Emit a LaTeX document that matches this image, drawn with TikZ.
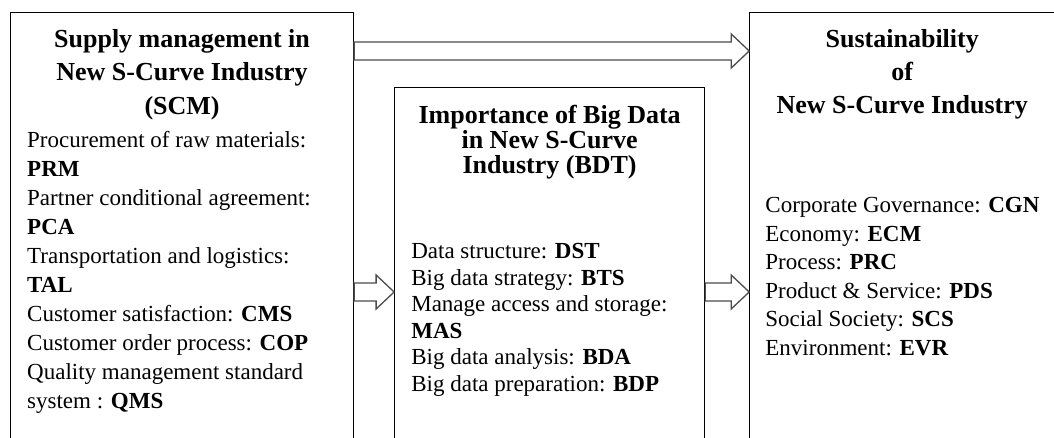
\documentclass[tikz,border=0pt]{standalone}
\usepackage{fontspec}
\setmainfont{Liberation Serif}
\usetikzlibrary{positioning,calc}

% open block arrow from one point to another (same height)
\newcommand{\hollowarrow}[2]{%
  \draw[fatarrow] let \p1=(#1), \p2=(#2) in
    (\x1,\y1-9pt) -- (\x2-18pt,\y1-9pt) -- (\x2-18pt,\y1-17pt) -- (\x2,\y1)
    -- (\x2-18pt,\y1+17pt) -- (\x2-18pt,\y1+9pt) -- (\x1,\y1+9pt) -- cycle;}

\begin{document}
\begin{tikzpicture}[x=1pt,y=1pt,
  box/.style={draw,line width=1.1pt,inner sep=0pt},
  title/.style={font=\fontsize{26}{#1}\selectfont\bfseries,align=center,inner sep=0pt,anchor=north},
  title/.default=33.5,
  body/.style={font=\fontsize{23}{#1}\selectfont,align=left,inner sep=0pt,anchor=north west},
  body/.default=29,
  fatarrow/.style={draw=black!70,fill=white,line width=1.3pt,line join=miter}]
\useasboundingbox (0,0) rectangle (1054,438);

% the three blocks
\node[box,minimum width=343,minimum height=450,anchor=north west] (scm) at (10,426) {};
\node[box,minimum width=310,minimum height=375,above right=0pt and 40pt of scm.south east] (bdt) {};
\node[box,minimum width=305,minimum height=450,above right=0pt and 44pt of bdt.south east] (sus) {};

% left block
\node[title] (scmtitle) at ([yshift=-17pt]scm.north) {Supply management in\\New S-Curve Industry\\(SCM)};
\node[body] (scmlist) at ([xshift=17pt,yshift=-119pt]scm.north west)
  {Procurement of raw materials:\\
   \textbf{PRM}\\
   Partner conditional agreement:\\
   \textbf{PCA}\\
   Transportation and logistics:\\
   \textbf{TAL}\\
   Customer satisfaction: \textbf{CMS}\\
   Customer order process: \textbf{COP}\\
   Quality management standard\\
   system : \textbf{QMS}};

% middle block
\node[title=25] (bdttitle) at ([yshift=-18pt]bdt.north) {Importance of Big Data\\in New S-Curve\\Industry (BDT)};
\node[body=26.6] (bdtlist) at ([xshift=17pt,yshift=-156pt]bdt.north west)
  {Data structure: \textbf{DST}\\
   Big data strategy: \textbf{BTS}\\
   Manage access and storage:\\
   \textbf{MAS}\\
   Big data analysis: \textbf{BDA}\\
   Big data preparation: \textbf{BDP}};

% right block
\node[title=33] (sustitle) at ([yshift=-17pt]sus.north) {Sustainability\\of\\New S-Curve Industry};
\node[body=28.6] (suslist) at ([xshift=16pt,yshift=-185pt]sus.north west)
  {Corporate Governance: \textbf{CGN}\\
   Economy: \textbf{ECM}\\
   Process: \textbf{PRC}\\
   Product \& Service: \textbf{PDS}\\
   Social Society: \textbf{SCS}\\
   Environment: \textbf{EVR}};

% connectors
\coordinate (toprow) at (0,387);
\coordinate (midrow) at (0,146);
\hollowarrow{scm.east |- toprow}{sus.west |- toprow}
\hollowarrow{scm.east |- midrow}{bdt.west |- midrow}
\hollowarrow{bdt.east |- midrow}{sus.west |- midrow}
\end{tikzpicture}
\end{document}
